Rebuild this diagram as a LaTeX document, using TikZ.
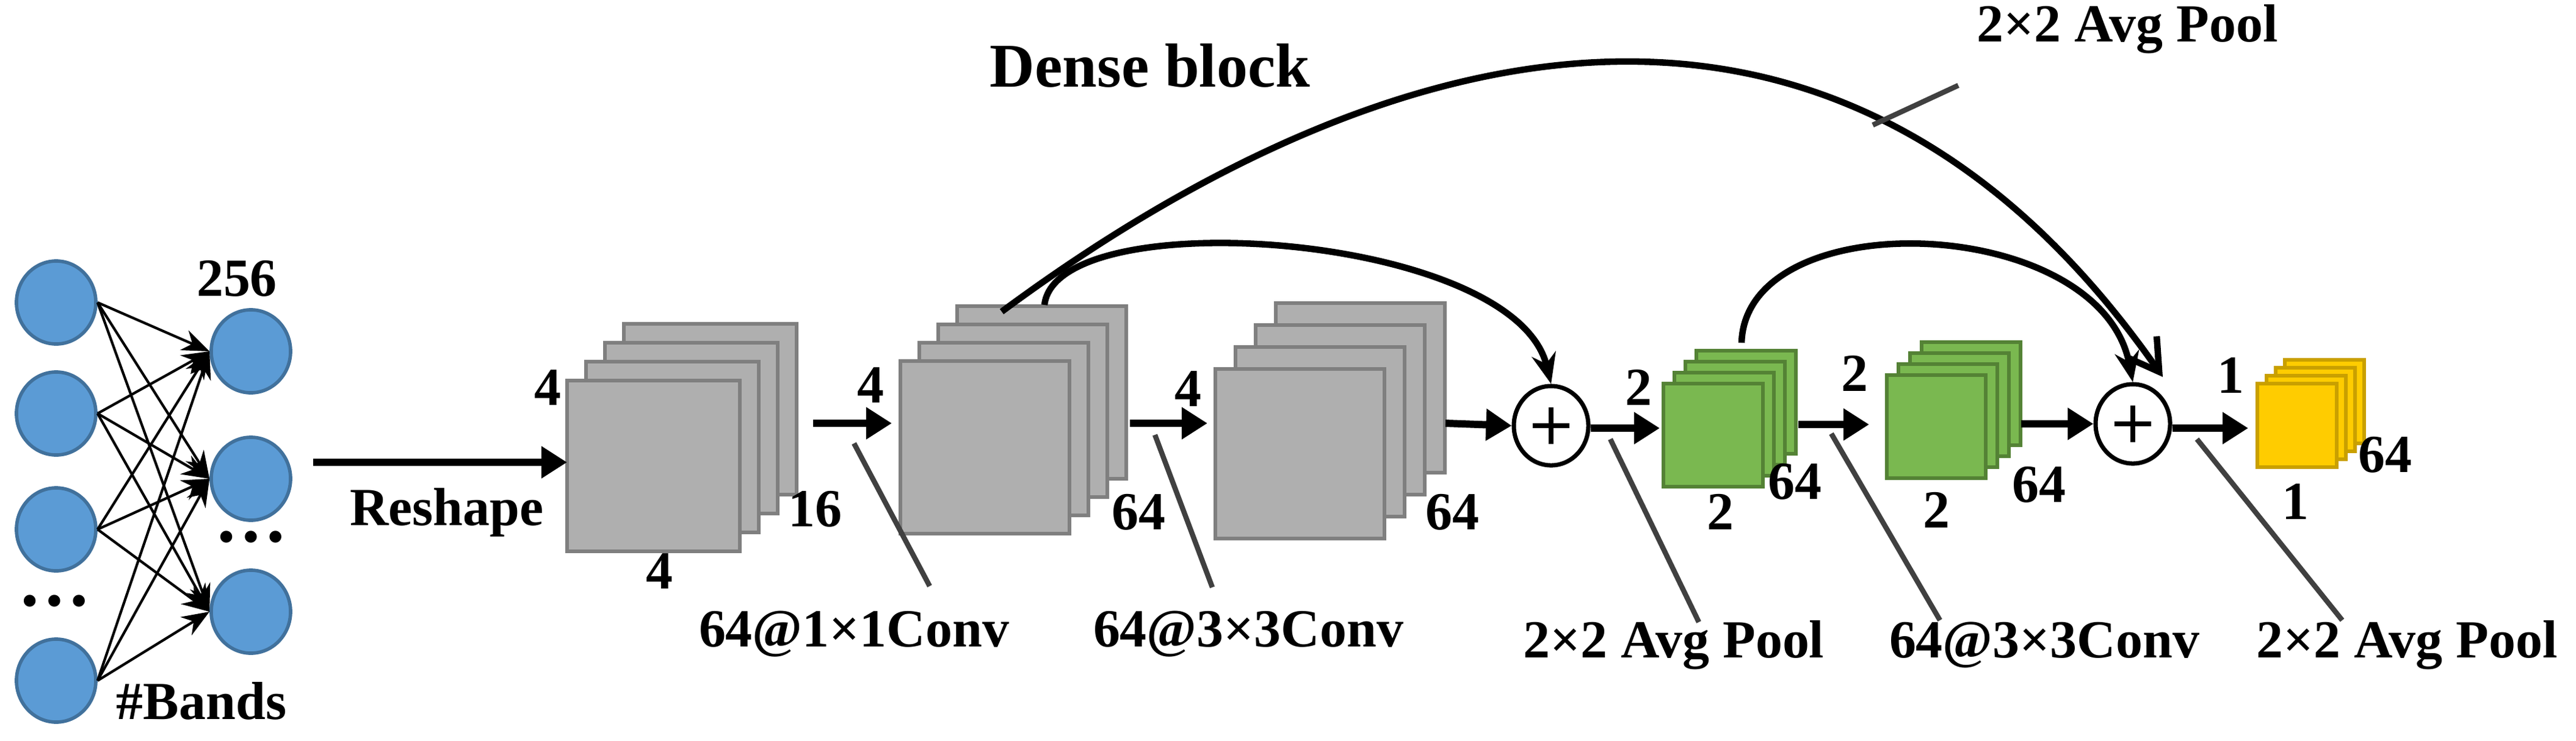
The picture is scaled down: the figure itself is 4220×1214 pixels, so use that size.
\documentclass[tikz,border=0pt]{standalone}
\usepackage{fontspec}
\setmainfont{Liberation Serif}
\usetikzlibrary{arrows.meta,shapes.geometric}
\definecolor{cblue}{HTML}{5B9BD5}\definecolor{cblueb}{HTML}{41719C}
\definecolor{cgrey}{HTML}{AFAFAF}\definecolor{cgreyb}{HTML}{7F7F7F}
\definecolor{cgreen}{HTML}{7AB850}\definecolor{cgreenb}{HTML}{548235}
\definecolor{cyel}{HTML}{FFCC00}\definecolor{cyelb}{HTML}{C9A000}
\begin{document}
\begin{tikzpicture}[x=0.01cm,y=-0.01cm,
  lbl/.style={font=\fontsize{25}{28}\selectfont\bfseries,inner sep=0pt},
  neuron/.style={ellipse,draw=cblueb,fill=cblue,line width=1.6pt,minimum width=1.30cm,minimum height=1.36cm},
  grey/.style={draw=cgreyb,fill=cgrey,line width=1.8pt},
  green/.style={draw=cgreenb,fill=cgreen,line width=1.8pt},
  yel/.style={draw=cyelb,fill=cyel,line width=1.8pt},
  thin arr/.style={line width=1.2pt,-{Stealth[length=0.45cm,width=0.35cm]}},
  main arr/.style={line width=3.4pt,-{Triangle[length=0.42cm,width=0.5cm]}},
  curve arr/.style={line width=3pt,-{Stealth[length=0.5cm,width=0.4cm]}},
  lead/.style={line width=2.4pt,draw=black!75},
  plus/.style={ellipse,draw,line width=2pt,fill=white,minimum width=1.22cm,minimum height=1.3cm,inner sep=0pt}]
\useasboundingbox (0,0) rectangle (4220,1214);
% input network
\foreach \y [count=\i] in {496,678,868,1116} \node[neuron] (a\i) at (92,\y) {};
\foreach \y [count=\i] in {576,785,1003} \node[neuron] (b\i) at (411,\y) {};
\foreach \i in {1,...,4} \foreach \j in {1,...,3} \draw[thin arr] (a\i.east) -- (b\j.west);
\node[lbl] (t256) at (388,457) {256};
\node[lbl,font=\fontsize{34}{34}\selectfont\bfseries] (d1) at (89,985) {…};
\node[lbl,font=\fontsize{34}{34}\selectfont\bfseries] (d2) at (411,880) {…};
\node[lbl] (tb) at (330,1149) {\#Bands};
\newcommand\stk[8]{\foreach \k in {3,2,1,0}{\draw[#8] ({#2+\k*#6},{#3+\k*#7}) rectangle ({#4+\k*#6},{#5+\k*#7});}
  \coordinate (#1) at ({(#2+#4)/2},{(#3+#5)/2});}
\coordinate (r0) at (513,758);
\stk{s1}{929}{624}{1212}{904}{31}{-31}{grey}
\stk{s2}{1475}{592}{1752}{875}{31}{-30}{grey}
\stk{s3}{1991}{605}{2268}{883}{33}{-36}{grey}
\stk{g1}{2725}{629}{2888}{798}{18}{-18}{green}
\stk{g2}{3091}{615}{3253}{784}{19}{-18}{green}
\stk{y1}{3698}{629}{3828}{766}{15}{-13}{yel}
\node[plus] (p1) at (2541,698) {};
\node[plus] (p2) at (3494,695) {};
\foreach \p in {p1,p2} \draw[line width=2.2pt] ([xshift=-0.3cm]\p.center) -- ([xshift=0.3cm]\p.center) ([yshift=-0.3cm]\p.center) -- ([yshift=0.3cm]\p.center);
\coordinate (s1in) at (929,758);
\coordinate (a1s) at (1332,694); \coordinate (a1e) at (1461,694);
\coordinate (a2s) at (1851,694); \coordinate (a2e) at (1978,694);
\coordinate (a3s) at (2368,694);
\coordinate (a4e) at (2719,702); \coordinate (a5s) at (2946,696); \coordinate (a5e) at (3062,696);
\coordinate (a6s) at (3311,695); \coordinate (a7e) at (3683,702);
\draw[main arr] (r0) -- (s1in);
\draw[main arr] (a1s) -- (a1e);
\draw[main arr] (a2s) -- (a2e);
\draw[main arr] (a3s) -- (p1.west);
\draw[main arr] (p1.east |- a4e) -- (a4e);
\draw[main arr] (a5s) -- (a5e);
\draw[main arr] (a6s) -- (p2.west);
\draw[main arr] (p2.east |- a7e) -- (a7e);
\coordinate (c1s) at (1641,511); \coordinate (c1e) at (3543,618);
\draw[line width=3pt,-{Straight Barb[length=0.5cm,width=0.6cm,line width=3pt]}] (c1s) .. controls (2250,60) and (3000,-160) .. (c1e);
\coordinate (c2s) at (1711,500);
\draw[curve arr] (c2s) .. controls (1730,330) and (2480,380) .. (p1.north);
\coordinate (c3s) at (2853,562);
\draw[curve arr] (c3s) .. controls (2860,330) and (3440,350) .. (p2.north);
\node[lbl] at (732,840) {Reshape};
\node[lbl] at (897,636) {4}; \node[lbl] at (1080,937) {4}; \node[lbl] at (1335,835) {16};
\node[lbl] at (1426,632) {4}; \node[lbl] at (1865,840) {64};
\node[lbl] at (1946,638) {4}; \node[lbl] at (2379,840) {64};
\node[lbl] at (2684,635) {2}; \node[lbl] at (2818,839) {2}; \node[lbl] at (2940,790) {64};
\node[lbl] at (3038,612) {2}; \node[lbl] at (3172,836) {2}; \node[lbl] at (3340,795) {64};
\node[lbl] at (3654,615) {1}; \node[lbl] at (3760,822) {1}; \node[lbl] at (3907,746) {64};
\coordinate (l1a) at (1399,727); \coordinate (l1b) at (1523,961);
\coordinate (l2a) at (1892,713); \coordinate (l2b) at (1986,963);
\coordinate (l3a) at (2638,720); \coordinate (l3b) at (2783,1020);
\coordinate (l4a) at (3000,711); \coordinate (l4b) at (3178,1017);
\coordinate (l5a) at (3599,720); \coordinate (l5b) at (3837,1017);
\coordinate (l6a) at (3068,205); \coordinate (l6b) at (3208,140);
\foreach \i in {1,...,6} \draw[lead] (l\i a) -- (l\i b);
\node[lbl] at (1399,1040) {64@1×1Conv};
\node[lbl] at (2045,1040) {64@3×3Conv};
\node[lbl] at (2742,1058) {2×2 Avg Pool};
\node[lbl] at (3349,1058) {64@3×3Conv};
\node[lbl] at (3943,1058) {2×2 Avg Pool};
\node[lbl] at (3485,48) {2×2 Avg Pool};
\node[lbl,font=\fontsize{29}{32}\selectfont\bfseries] at (1884,108) {Dense block};
\end{tikzpicture}
\end{document}
